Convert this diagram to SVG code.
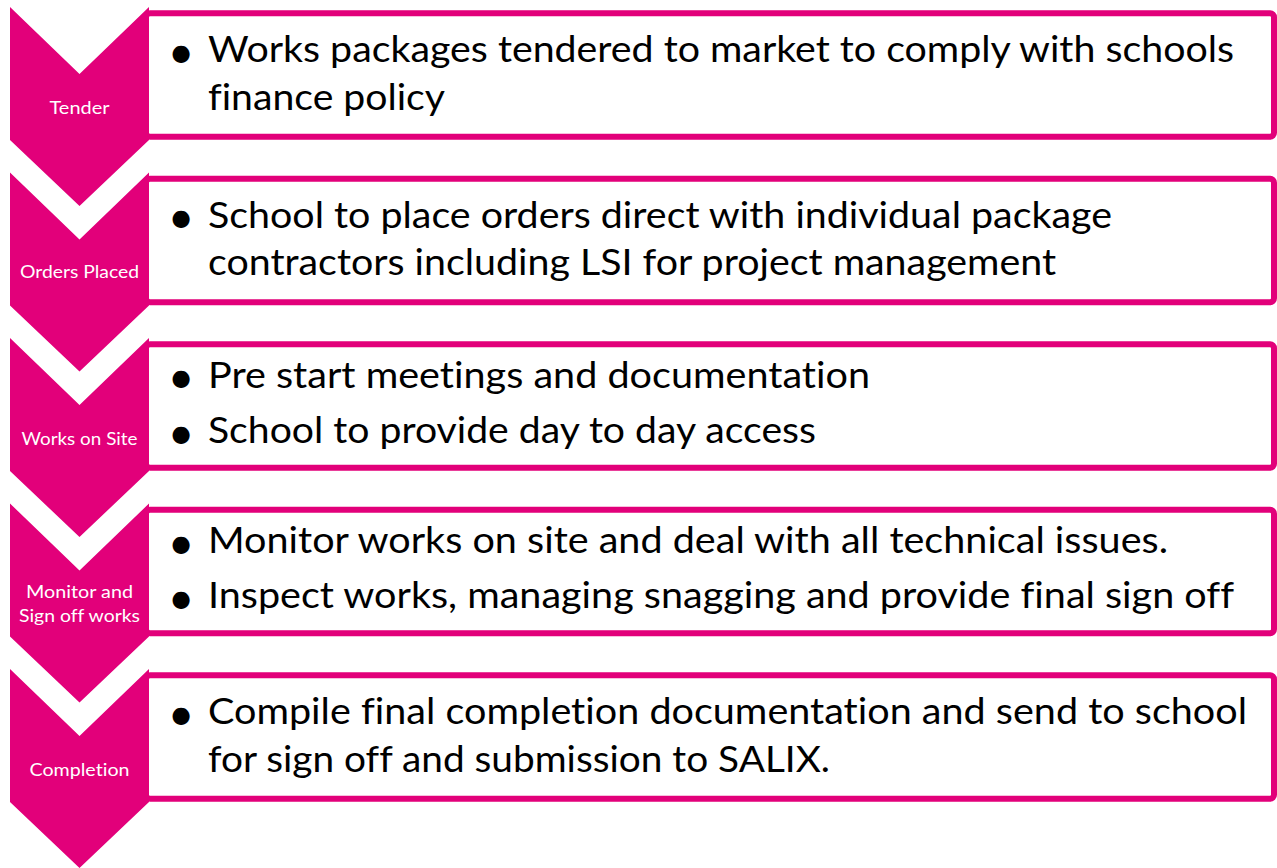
<svg xmlns="http://www.w3.org/2000/svg" width="1277" height="868" viewBox="0 0 1277 868">
<style>
.box{fill:#fff;stroke:#E2007A;stroke-width:6}
.chev{fill:#E2007A}
.lbl{font-family:Lato,"Open Sans",sans-serif;font-size:16.5px;fill:#fff;text-anchor:middle;font-variant-ligatures:none}
.txt{font-family:Lato,"Open Sans",sans-serif;font-size:36.5px;fill:#000;font-variant-ligatures:none}
.bul{font-family:Lato,"Open Sans",sans-serif;font-size:46px;fill:#000;text-anchor:middle}
</style>
<rect width="1277" height="868" fill="#fff"/>
<g id="step1">
<rect class="box" x="146" y="13.3" width="1128" height="123.5" rx="4"/>
<polygon class="chev" points="10,7 79.5,74 149,7 149,140 79.5,206 10,140"/>
<text class="lbl" x="79.5" y="114" textLength="60" lengthAdjust="spacingAndGlyphs">Tender</text>
<text class="bul" x="181" y="67.5">•</text>
<text class="txt" x="208" y="62" textLength="1026" lengthAdjust="spacingAndGlyphs">Works packages tendered to market to comply with schools</text>
<text class="txt" x="208" y="110" textLength="237" lengthAdjust="spacingAndGlyphs">finance policy</text>
</g>
<g id="step2">
<rect class="box" x="146" y="178.8" width="1128" height="123.5" rx="4"/>
<polygon class="chev" points="10,172.5 79.5,239.5 149,172.5 149,305.5 79.5,371.5 10,305.5"/>
<text class="lbl" x="79.5" y="278" textLength="119" lengthAdjust="spacingAndGlyphs">Orders Placed</text>
<text class="bul" x="181" y="233">•</text>
<text class="txt" x="208" y="227.5" textLength="904" lengthAdjust="spacingAndGlyphs">School to place orders direct with individual package</text>
<text class="txt" x="208" y="275" textLength="848" lengthAdjust="spacingAndGlyphs">contractors including LSI for project management</text>
</g>
<g id="step3">
<rect class="box" x="146" y="344.3" width="1128" height="123.5" rx="4"/>
<polygon class="chev" points="10,338 79.5,405 149,338 149,471 79.5,537 10,471"/>
<text class="lbl" x="79.5" y="445" textLength="116" lengthAdjust="spacingAndGlyphs">Works on Site</text>
<text class="bul" x="181" y="393">•</text>
<text class="txt" x="208" y="387.5" textLength="662" lengthAdjust="spacingAndGlyphs">Pre start meetings and documentation</text>
<text class="bul" x="181" y="448.5">•</text>
<text class="txt" x="208" y="443" textLength="608" lengthAdjust="spacingAndGlyphs">School to provide day to day access</text>
</g>
<g id="step4">
<rect class="box" x="146" y="509.8" width="1128" height="123.5" rx="4"/>
<polygon class="chev" points="10,503.5 79.5,570.5 149,503.5 149,636.5 79.5,702.5 10,636.5"/>
<text class="lbl" x="79.5" y="598" textLength="107" lengthAdjust="spacingAndGlyphs">Monitor and</text>
<text class="lbl" x="79.5" y="622" textLength="121" lengthAdjust="spacingAndGlyphs">Sign off works</text>
<text class="bul" x="181" y="558.5">•</text>
<text class="txt" x="208" y="553" textLength="960" lengthAdjust="spacingAndGlyphs">Monitor works on site and deal with all technical issues.</text>
<text class="bul" x="181" y="613.5">•</text>
<text class="txt" x="208" y="608" textLength="1026" lengthAdjust="spacingAndGlyphs">Inspect works, managing snagging and provide final sign off</text>
</g>
<g id="step5">
<rect class="box" x="146" y="675.3" width="1128" height="123.5" rx="4"/>
<polygon class="chev" points="10,669 79.5,736 149,669 149,802 79.5,868 10,802"/>
<text class="lbl" x="79.5" y="776" textLength="100" lengthAdjust="spacingAndGlyphs">Completion</text>
<text class="bul" x="181" y="729.5">•</text>
<text class="txt" x="208" y="724" textLength="1039" lengthAdjust="spacingAndGlyphs">Compile final completion documentation and send to school</text>
<text class="txt" x="208" y="772" textLength="622" lengthAdjust="spacingAndGlyphs">for sign off and submission to SALIX.</text>
</g>
<g id="connectors"/>
</svg>
